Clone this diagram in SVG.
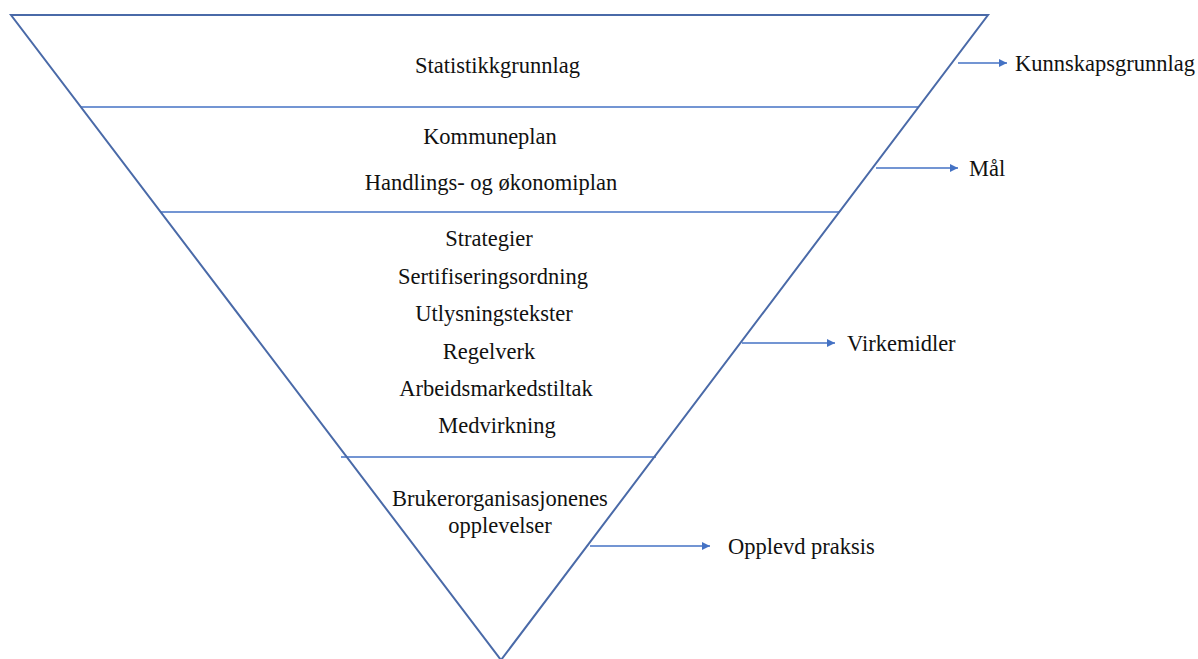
<svg xmlns="http://www.w3.org/2000/svg" width="1198" height="659" viewBox="0 0 1198 659">
<style>
.edge{fill:none;stroke:#4a6aa8;stroke-width:2}
.sep{stroke:#4472c4;stroke-width:1.4}
.conn{stroke:#4472c4;stroke-width:1.3;fill:none}
text{font-family:"Liberation Serif","Times New Roman",serif;font-size:22.5px;fill:#111}
.c{text-anchor:middle}
</style>
<defs>
<marker id="ah" viewBox="0 0 10 10" refX="10" refY="5" markerWidth="10" markerHeight="8" markerUnits="userSpaceOnUse" orient="auto">
<path d="M0,0 L10,5 L0,10 z" fill="#4472c4"/>
</marker>
</defs>
<rect width="1198" height="659" fill="#fff"/>
<g id="pyramid">
<line class="sep" x1="81" y1="107" x2="918" y2="107"/>
<line class="sep" x1="160" y1="212" x2="839" y2="212"/>
<line class="sep" x1="341" y1="457" x2="656" y2="457"/>
<path class="edge" d="M11,15 L988,15 L501,660 Z"/>
</g>
<g id="layer1"><text class="c" x="497.5" y="73">Statistikkgrunnlag</text></g>
<g id="layer2">
<text class="c" x="490" y="144">Kommuneplan</text>
<text class="c" x="491" y="190">Handlings- og økonomiplan</text>
</g>
<g id="layer3">
<text class="c" x="489" y="246">Strategier</text>
<text class="c" x="493" y="284">Sertifiseringsordning</text>
<text class="c" x="494" y="321">Utlysningstekster</text>
<text class="c" x="489" y="359">Regelverk</text>
<text class="c" x="496" y="396">Arbeidsmarkedstiltak</text>
<text class="c" x="497" y="433">Medvirkning</text>
</g>
<g id="layer4">
<text class="c" x="500" y="506">Brukerorganisasjonenes</text>
<text class="c" x="500" y="533">opplevelser</text>
</g>
<g id="connectors">
<line class="conn" x1="958" y1="63" x2="1007" y2="63" marker-end="url(#ah)"/>
<line class="conn" x1="876" y1="168" x2="958" y2="168" marker-end="url(#ah)"/>
<line class="conn" x1="742" y1="343" x2="835" y2="343" marker-end="url(#ah)"/>
<line class="conn" x1="590" y1="546" x2="710" y2="546" marker-end="url(#ah)"/>
</g>
<g id="label-kunnskap"><text x="1015" y="71">Kunnskapsgrunnlag</text></g>
<g id="label-mal"><text x="969" y="176">Mål</text></g>
<g id="label-virkemidler"><text x="847" y="351">Virkemidler</text></g>
<g id="label-praksis"><text x="728" y="554">Opplevd praksis</text></g>
</svg>
